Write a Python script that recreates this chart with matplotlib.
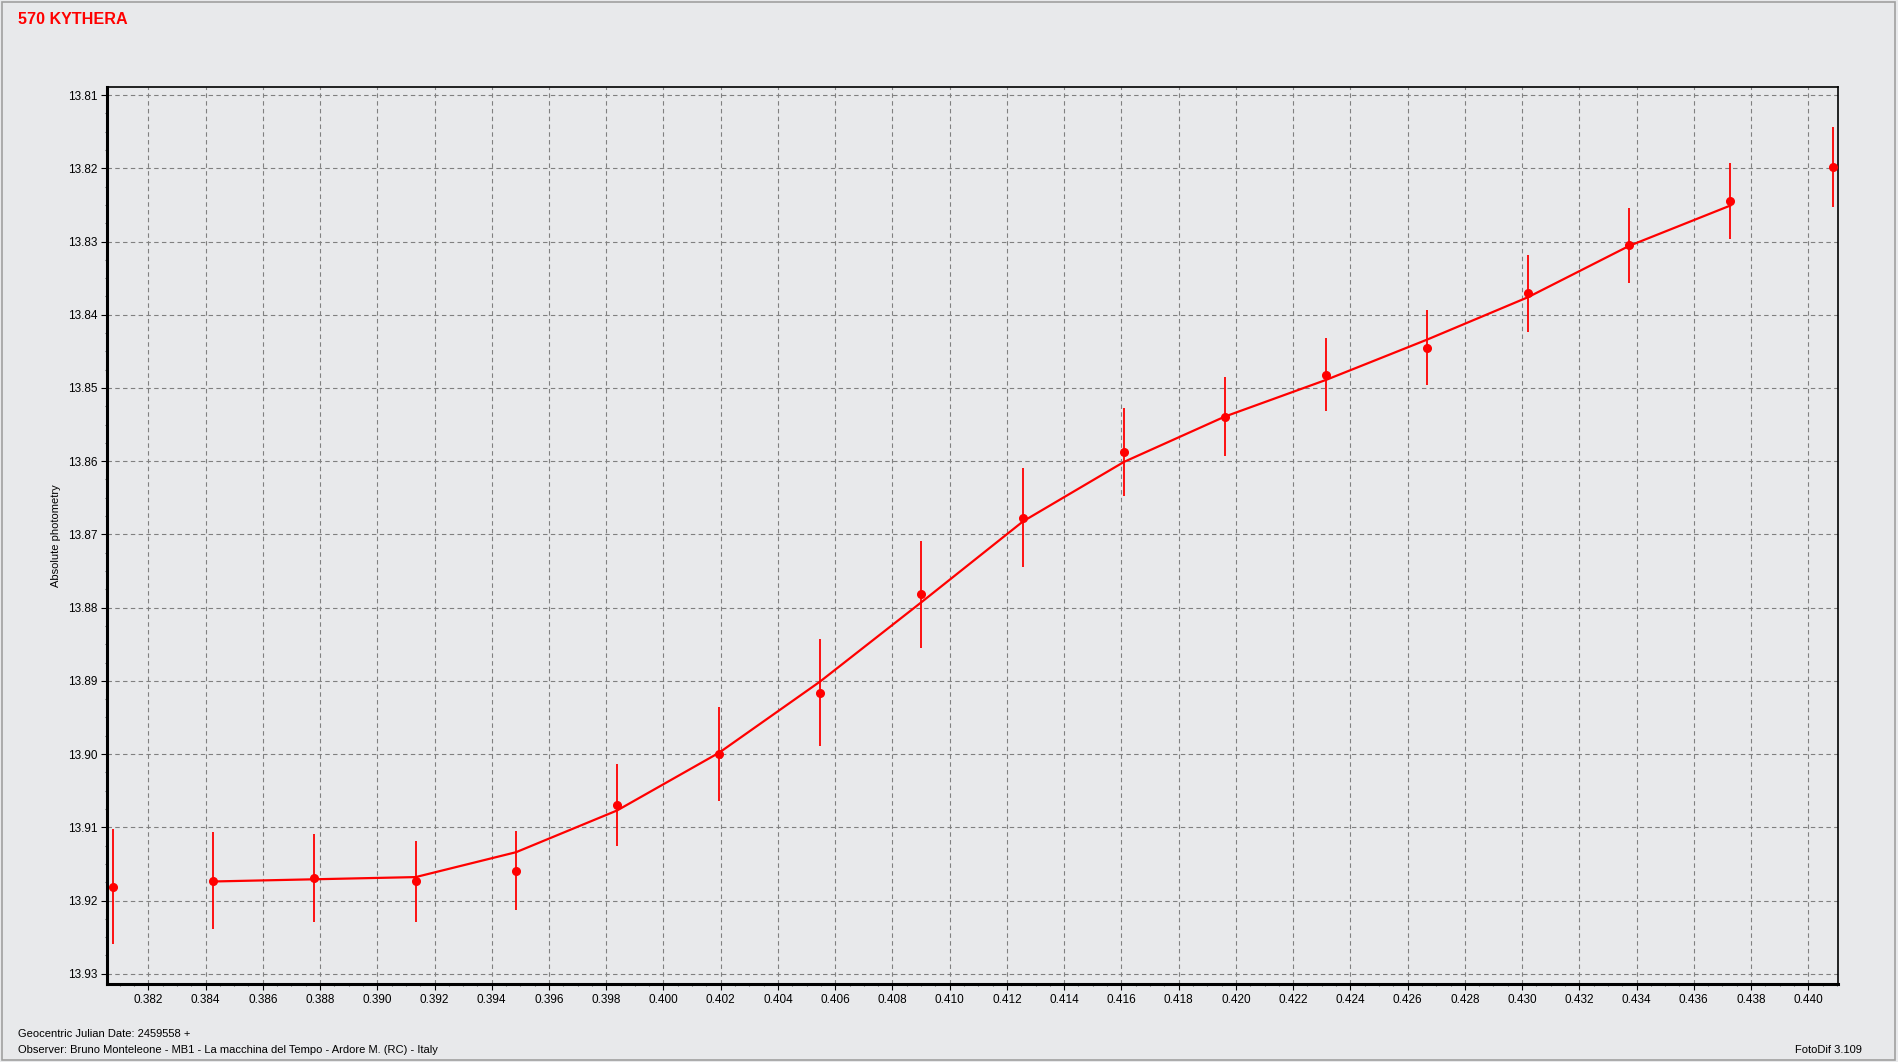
import numpy as np
import matplotlib as mpl
mpl.use('Agg')
import matplotlib.pyplot as plt
from matplotlib.ticker import MultipleLocator, FormatStrFormatter
from matplotlib.patches import Rectangle

# Geocentric JD fraction (+2459558), magnitude, error
jd = [0.38077, 0.38426, 0.38779, 0.39134, 0.39485, 0.39838, 0.40195, 0.40547, 0.40900,
      0.41257, 0.41609, 0.41962, 0.42315, 0.42668, 0.43021, 0.43374, 0.43727, 0.44088]
mag = [13.9181, 13.9173, 13.9169, 13.9174, 13.9159, 13.9069, 13.9000, 13.8916, 13.8782,
       13.8677, 13.8587, 13.8539, 13.8482, 13.8445, 13.8371, 13.8305, 13.8245, 13.8198]
err = [0.0078, 0.0066, 0.0060, 0.0055, 0.0054, 0.0056, 0.0064, 0.0073, 0.0073,
       0.0068, 0.0060, 0.0054, 0.0050, 0.0051, 0.0052, 0.0051, 0.0052, 0.0055]

# fitted curve (points 2..17)
fit_jd = jd[1:17]
fit_mag = [13.9174, 13.9171, 13.9168, 13.9134, 13.9077, 13.8998, 13.8901, 13.8793,
           13.8682, 13.8601, 13.8539, 13.8489, 13.8434, 13.8376, 13.8306, 13.8251]

bg = '#e8e9eb'
W, H = 1898, 1062
fig = plt.figure(figsize=(W / 100, H / 100), dpi=100, facecolor=bg)

ax = fig.add_axes([107 / W, 1 - 984 / H, (1838 - 107) / W, (984 - 87) / H])
ax.set_facecolor(bg)

ax.plot(fit_jd, fit_mag, color='#ff0000', lw=1.6, zorder=3)
ax.errorbar(jd, mag, yerr=err, fmt='o', color='#ff0000', ms=5.5, elinewidth=1.3,
            capsize=0, zorder=4)

ax.set_xlim(0.380557, 0.441038)
ax.set_ylim(13.9314, 13.8089)

ax.xaxis.set_major_locator(MultipleLocator(0.002))
ax.xaxis.set_minor_locator(MultipleLocator(0.0005))
ax.yaxis.set_major_locator(MultipleLocator(0.01))
ax.yaxis.set_minor_locator(MultipleLocator(0.0025))
ax.xaxis.set_major_formatter(FormatStrFormatter('%.3f'))
ax.yaxis.set_major_formatter(FormatStrFormatter('%.2f'))

ax.grid(True, which='major', color='#808080', linestyle=(0, (4, 3)), linewidth=0.8)
ax.tick_params(which='major', direction='out', length=4, width=0.8, labelsize=8.5,
               pad=3, colors='black')
ax.tick_params(which='minor', direction='out', length=1.5, width=0.8, color='#606060')

for side in ['left', 'bottom']:
    ax.spines[side].set_linewidth(2.2)
for side in ['top', 'right']:
    ax.spines[side].set_linewidth(1.2)

for lab in ax.get_xticklabels() + ax.get_yticklabels():
    lab.set_family('Liberation Sans')

ax.set_ylabel('Absolute photometry', fontsize=8, family='Liberation Sans', labelpad=5)

fig.text(18 / W, 1 - 20 / H, '570 KYTHERA', color='#ff0000', fontsize=11.6,
         fontweight='bold', family='Liberation Sans', va='center', ha='left')
fig.text(18 / W, 1 - 1034 / H, 'Geocentric Julian Date: 2459558 +', fontsize=8,
         family='Liberation Sans', va='center', ha='left')
fig.text(18 / W, 1 - 1050 / H,
         'Observer: Bruno Monteleone - MB1 - La macchina del Tempo - Ardore M. (RC) - Italy',
         fontsize=8, family='Liberation Sans', va='center', ha='left')
fig.text(1862 / W, 1 - 1050 / H, 'FotoDif 3.109', fontsize=8,
         family='Liberation Sans', va='center', ha='right')

fig.patches.append(Rectangle((2 / W, 2 / H), 1 - 5 / W, 1 - 4 / H, transform=fig.transFigure,
                             fill=False, edgecolor='#a0a0a0', linewidth=1.2))

fig.savefig('out.png', dpi=100, facecolor=bg)
